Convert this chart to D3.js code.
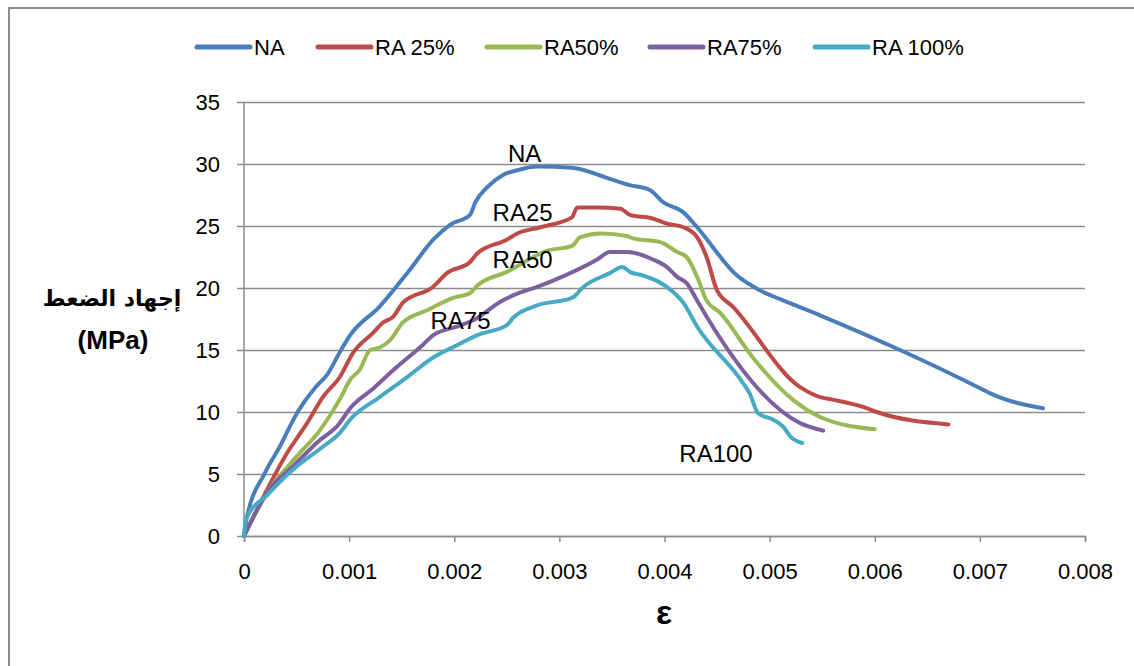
<!DOCTYPE html>
<html>
<head>
<meta charset="utf-8">
<script src="https://cdn.jsdelivr.net/npm/d3@7"></script>
<style>
    body { margin: 0; background: #fff; }
    #chart-area text { font-family: "Liberation Sans", Arial, sans-serif; fill: #000; }
</style>
</head>
<body>
<div id="chart-area"></div>
<script>

// strain (x) / stress in MPa (y)
var naStrain = [0, 0.00002, 0.0002, 0.00034, 0.00051, 0.00068, 0.00079, 0.00091, 0.00101, 0.00129, 0.00158, 0.0018, 0.00196, 0.00215, 0.0022, 0.00231, 0.00246, 0.0026, 0.00279, 0.00312, 0.00348, 0.00367, 0.00386, 0.00399, 0.00418, 0.00431, 0.00469, 0.00491, 0.0051, 0.00548, 0.00624, 0.00703, 0.0071, 0.0076];
var naStress = [0, 1.2, 5.1, 7.2, 10, 12, 13, 14.8, 16.2, 18.5, 21.5, 23.9, 25.1, 25.9, 26.9, 28.1, 29.1, 29.5, 29.8, 29.7, 28.8, 28.3, 27.9, 26.9, 26.1, 24.9, 21.0, 19.8, 19.1, 17.8, 15, 11.8, 11.5, 10.3];

var ra25Strain = [0, 0.00018, 0.00041, 0.0006, 0.00075, 0.00091, 0.00104, 0.00123, 0.00132, 0.00142, 0.00151, 0.0018, 0.00193, 0.00215, 0.00222, 0.0025, 0.0026, 0.00282, 0.00312, 0.00317, 0.00336, 0.00358, 0.00367, 0.00389, 0.00402, 0.00418, 0.00431, 0.0044, 0.0045, 0.00465, 0.00529, 0.00548, 0.0056, 0.00593, 0.00602, 0.0067];
var ra25Stress = [0, 3.1, 6.7, 9.1, 11.2, 12.8, 14.8, 16.4, 17.2, 17.7, 18.8, 20.1, 21.2, 22.1, 22.8, 23.9, 24.4, 24.9, 25.7, 26.5, 26.5, 26.4, 25.9, 25.6, 25.2, 24.9, 24.1, 22.5, 19.8, 18.5, 12.0, 11.2, 11.0, 10.3, 10.0, 9.0];

var ra50Strain = [0, 0.00022, 0.0005, 0.00072, 0.00091, 0.00101, 0.0011, 0.0012, 0.00129, 0.00139, 0.00151, 0.00174, 0.00199, 0.00215, 0.00222, 0.0025, 0.00288, 0.00312, 0.0032, 0.00339, 0.00364, 0.0037, 0.00396, 0.00412, 0.00421, 0.00431, 0.0044, 0.00453, 0.00484, 0.00522, 0.00548, 0.006];
var ra50Stress = [0, 3.5, 6.4, 8.5, 11.0, 12.6, 13.4, 15.0, 15.2, 15.8, 17.2, 18.2, 19.2, 19.6, 20.2, 21.3, 23.0, 23.4, 24.1, 24.4, 24.2, 24.0, 23.7, 22.9, 22.5, 20.9, 19.0, 18.0, 14.4, 11.0, 9.6, 8.6];

var ra75Strain = [0, 0.00022, 0.0005, 0.00069, 0.00091, 0.00101, 0.00123, 0.00145, 0.0017, 0.0018, 0.00203, 0.00218, 0.00246, 0.00256, 0.00282, 0.00294, 0.00336, 0.00348, 0.00364, 0.00389, 0.00402, 0.00412, 0.00421, 0.00431, 0.0044, 0.00529, 0.00551];
var ra75Stress = [0, 3.5, 5.9, 7.5, 9.1, 10.3, 11.9, 13.6, 15.4, 16.2, 16.9, 17.4, 19.0, 19.4, 20.2, 20.6, 22.3, 22.9, 22.9, 22.3, 21.7, 20.9, 20.4, 19.0, 17.7, 9.1, 8.5];

var ra100Strain = [0, 0.00002, 0.00022, 0.0005, 0.00075, 0.00091, 0.00101, 0.00129, 0.00155, 0.0018, 0.00203, 0.00222, 0.0025, 0.00256, 0.00279, 0.00312, 0.00323, 0.00348, 0.0036, 0.00367, 0.0038, 0.00408, 0.00418, 0.00431, 0.00475, 0.00481, 0.00489, 0.00503, 0.00513, 0.0052, 0.00531];
var ra100Stress = [0, 1.4, 3.3, 5.6, 7.2, 8.3, 9.4, 11.2, 12.8, 14.4, 15.4, 16.2, 17.0, 17.6, 18.6, 19.2, 20.1, 21.2, 21.7, 21.3, 21.0, 19.7, 18.8, 16.9, 12.3, 11.5, 9.9, 9.4, 8.8, 8.0, 7.5];

var seriesNames = ["NA", "RA 25%", "RA50%", "RA75%", "RA 100%"];
var curveLabels = ["NA", "RA25", "RA50", "RA75", "RA100"];
var xTicks = [0, 0.001, 0.002, 0.003, 0.004, 0.005, 0.006, 0.007, 0.008];
var yTicks = [0, 5, 10, 15, 20, 25, 30, 35];


LineChart = function(_parentElement){
    this.parentElement = _parentElement;
    this.initVis();
}

LineChart.prototype.initVis = function(){
    var vis = this;

    vis.margin = { top: 102, right: 49, bottom: 130, left: 244 };
    vis.width = 1134 - vis.margin.left - vis.margin.right;
    vis.height = 666 - vis.margin.top - vis.margin.bottom;

    vis.colors = ["#4a7ebb", "#be4b48", "#98b954", "#7d60a0", "#46aac5"];
    vis.gridColor = "#8c8c8c";

    vis.root = d3.select("#" + vis.parentElement).append("svg")
        .attr("width", 1134)
        .attr("height", 666);

    // outer chart frame (right/bottom edges fall outside the picture)
    vis.root.append("rect")
        .attr("x", 9).attr("y", 8)
        .attr("width", 1200).attr("height", 700)
        .attr("fill", "#fff")
        .attr("stroke", "#8c8c8c")
        .attr("stroke-width", 2);

    vis.svg = vis.root.append("g")
        .attr("transform", "translate(" + vis.margin.left + "," + vis.margin.top + ")");

    vis.x = d3.scaleLinear().domain([0, 0.008]).range([0, vis.width]);
    vis.y = d3.scaleLinear().domain([0, 35]).range([vis.height, 0]);

    vis.data = [
        d3.zip(naStrain, naStress),
        d3.zip(ra25Strain, ra25Stress),
        d3.zip(ra50Strain, ra50Stress),
        d3.zip(ra75Strain, ra75Stress),
        d3.zip(ra100Strain, ra100Stress)
    ];

    // curve label anchors, in data units
    vis.labelPos = [[0.00267, 30.2], [0.00265, 25.4], [0.00265, 21.6], [0.00206, 16.7], [0.00449, 6.0]];

    vis.updateVis();
}

LineChart.prototype.updateVis = function(){
    var vis = this;

    // horizontal gridlines + left ticks
    var yAxis = d3.axisLeft(vis.y)
        .tickValues(yTicks)
        .tickSize(-(vis.width + 7))
        .tickPadding(17)
        .tickFormat(d3.format("d"));

    var gy = vis.svg.append("g")
        .attr("class", "y-axis axis")
        .attr("transform", "translate(-7,0)")
        .call(yAxis);
    gy.select(".domain").remove();
    gy.selectAll("line").attr("stroke", vis.gridColor).attr("stroke-width", 1.5);
    gy.selectAll("text").attr("font-size", 22);

    vis.svg.append("line")
        .attr("x1", 0).attr("x2", 0)
        .attr("y1", 0).attr("y2", vis.height)
        .attr("stroke", vis.gridColor).attr("stroke-width", 1.5);

    var xAxis = d3.axisBottom(vis.x)
        .tickValues(xTicks)
        .tickSize(6)
        .tickPadding(21)
        .tickFormat(function(d) { return d === 0 ? "0" : d3.format(".3f")(d); });

    var gx = vis.svg.append("g")
        .attr("class", "x-axis axis")
        .attr("transform", "translate(0," + vis.height + ")")
        .call(xAxis);
    gx.selectAll("path, line").attr("stroke", vis.gridColor).attr("stroke-width", 1.5);
    gx.selectAll("text").attr("font-size", 22);

    var line = d3.line()
        .x(function(d) { return vis.x(d[0]); })
        .y(function(d) { return vis.y(d[1]); })
        .curve(d3.curveMonotoneX);

    vis.svg.selectAll("path.series")
        .data(vis.data)
        .enter().append("path")
        .attr("class", "series")
        .attr("fill", "none")
        .attr("stroke", function(d, i) { return vis.colors[i]; })
        .attr("stroke-width", 4)
        .attr("stroke-linejoin", "round")
        .attr("stroke-linecap", "round")
        .attr("d", line);

    vis.svg.selectAll("text.curve-label")
        .data(curveLabels)
        .enter().append("text")
        .attr("class", "curve-label")
        .attr("x", function(d, i) { return vis.x(vis.labelPos[i][0]); })
        .attr("y", function(d, i) { return vis.y(vis.labelPos[i][1]); })
        .attr("text-anchor", "middle")
        .attr("font-size", 24)
        .text(function(d) { return d; });

    // legend
    var legendX = [197, 318, 487, 650, 815];
    var legend = vis.root.selectAll("g.legend")
        .data(seriesNames)
        .enter().append("g")
        .attr("class", "legend")
        .attr("transform", function(d, i) { return "translate(" + legendX[i] + ",47)"; });

    legend.append("line")
        .attr("x1", 0).attr("x2", 53)
        .attr("stroke", function(d, i) { return vis.colors[i]; })
        .attr("stroke-width", 5)
        .attr("stroke-linecap", "round");

    legend.append("text")
        .attr("x", 57)
        .attr("y", 8)
        .attr("font-size", 22)
        .text(function(d) { return d; });

    // axis titles
    vis.root.append("text")
        .attr("x", 112).attr("y", 306)
        .attr("text-anchor", "middle")
        .attr("font-size", 22)
        .attr("font-weight", "bold")
        .style("font-family", "'DejaVu Sans', sans-serif")
        .text("إجهاد الضعط");

    vis.root.append("text")
        .attr("x", 113).attr("y", 349)
        .attr("text-anchor", "middle")
        .attr("font-size", 26)
        .attr("font-weight", "bold")
        .text("(MPa)");

    vis.root.append("text")
        .attr("x", 664).attr("y", 624)
        .attr("text-anchor", "middle")
        .attr("font-size", 34)
        .attr("font-weight", "bold")
        .text("ε");
}

var chart = new LineChart("chart-area");

</script>
</body>
</html>
